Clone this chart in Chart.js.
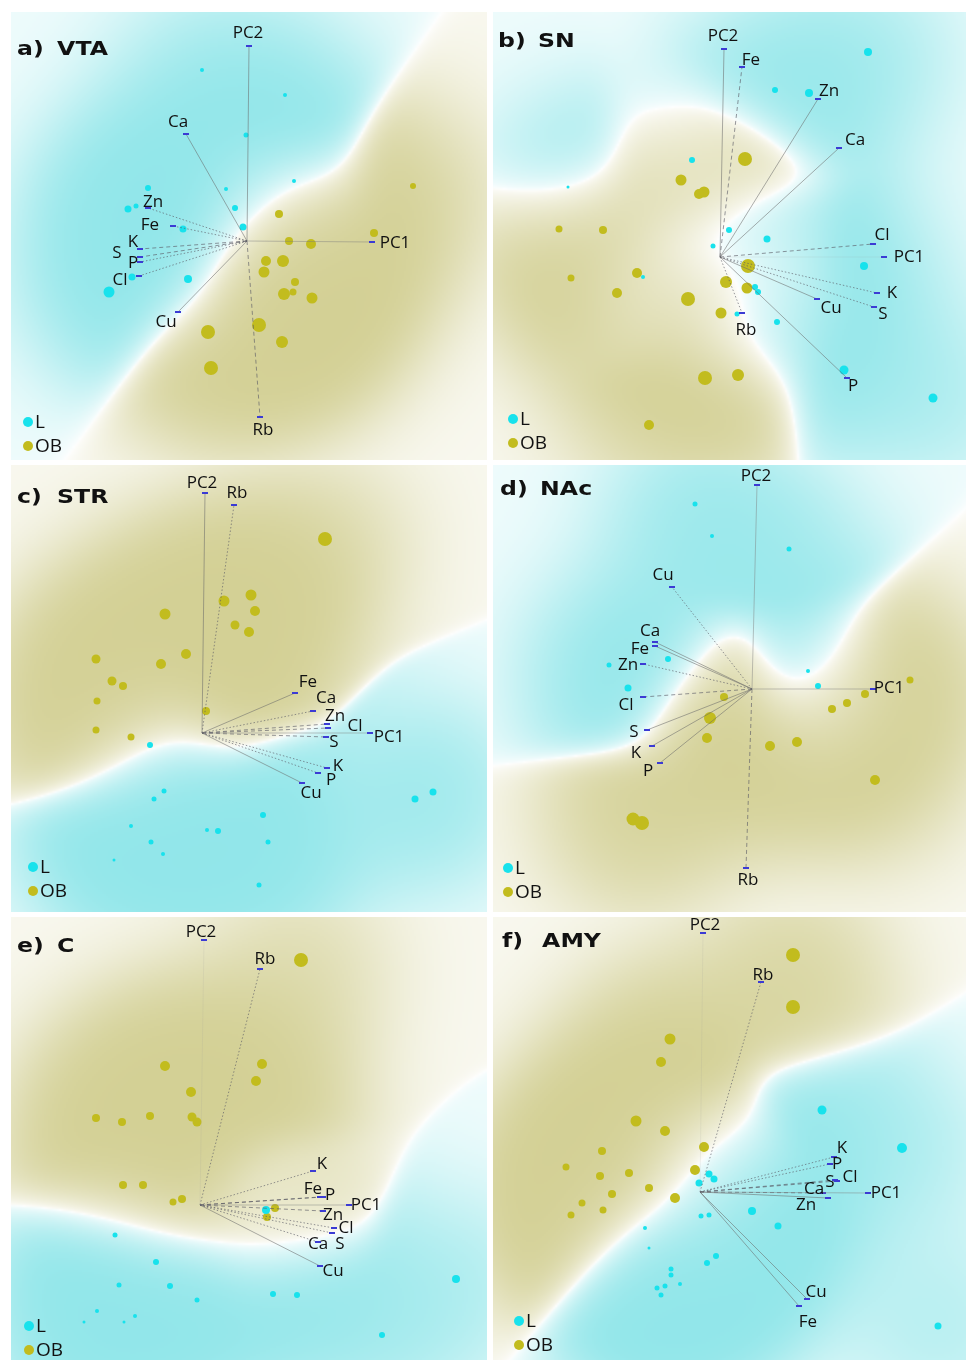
<!DOCTYPE html>
<html>
<head>
<meta charset="utf-8">
<script src="https://cdn.jsdelivr.net/npm/chart.js@4.4.0/dist/chart.umd.min.js"></script>
<style>
  body { margin: 0; background: #fff; width: 966px; height: 1360px; position: relative; overflow: hidden; }
  .panel { position: absolute; }
</style>
</head>
<body>
<div class="panel" style="left:11px;top:12px;width:476px;height:448px"><canvas id="chartVTA"></canvas></div>
<div class="panel" style="left:493px;top:12px;width:473px;height:448px"><canvas id="chartSN"></canvas></div>
<div class="panel" style="left:11px;top:465px;width:476px;height:447px"><canvas id="chartSTR"></canvas></div>
<div class="panel" style="left:493px;top:465px;width:473px;height:447px"><canvas id="chartNAc"></canvas></div>
<div class="panel" style="left:11px;top:917px;width:476px;height:443px"><canvas id="chartC"></canvas></div>
<div class="panel" style="left:493px;top:917px;width:473px;height:443px"><canvas id="chartAMY"></canvas></div>
<script>
// variables shown as loading arrows (the two PC axes are drawn the same way)
const VARS = ["PC1", "PC2", "Ca", "Cl", "Cu", "Fe", "K", "P", "Rb", "S", "Zn"];

// ---- VTA ----
const vtaLoadX = [1.25, 0.02, -0.61, -1.08, -0.69, -0.74, -1.07, -1.07, 0.13, -1.07, -0.99];
const vtaLoadY = [-0.01, 1.95, 1.07, -0.35, -0.71, 0.15, -0.08, -0.21, -1.76, -0.16, 0.33];
const vtaLX = [-0.45, 0.38, -0.01, 0.47, -0.21, -0.12, -0.04, -0.99, -1.19, -1.11, -0.64, -1.15, -0.59, -1.38];
const vtaLY = [1.71, 1.46, 1.06, 0.60, 0.52, 0.33, 0.14, 0.53, 0.32, 0.35, 0.12, -0.36, -0.38, -0.51];
const vtaLSize = [2, 2, 2.5, 2, 2, 3, 3.5, 3, 3.5, 2.5, 3.5, 3.5, 4, 5.5];
const vtaOBX = [1.66, 0.32, 0.42, 0.64, 1.27, 0.19, 0.36, 0.17, 0.48, 0.37, 0.46, 0.65, 0.12, -0.39, 0.35, -0.36];
const vtaOBY = [0.55, 0.27, 0.00, -0.03, 0.08, -0.20, -0.20, -0.31, -0.41, -0.53, -0.51, -0.57, -0.84, -0.91, -1.01, -1.27];
const vtaOBSize = [3, 4, 4, 5, 4, 5, 6, 5.5, 4, 6, 3.5, 5.5, 7, 7, 6, 7];

// ---- SN ----
const snLoadX = [1.64, 0.04, 1.19, 1.53, 0.97, 0.22, 1.57, 1.27, 0.22, 1.54, 0.98];
const snLoadY = [0.00, 2.08, 1.09, 0.13, -0.42, 1.90, -0.36, -1.21, -0.56, -0.50, 1.58];
const snLX = [1.48, 0.55, 0.89, -0.28, -1.52, 0.09, 0.47, -0.07, 1.44, -0.77, 0.35, 0.38, 0.17, 0.57, 1.24, 2.13];
const snLY = [2.05, 1.67, 1.64, 0.97, 0.70, 0.27, 0.18, 0.11, -0.09, -0.20, -0.30, -0.35, -0.57, -0.65, -1.13, -1.41];
const snLSize = [4, 3, 4, 3, 1.5, 3, 3.5, 2.5, 4, 2, 3, 3, 2.5, 3, 4.5, 4.5];
const snOBX = [0.25, -0.39, -0.16, -0.21, -1.61, -1.17, 0.28, -0.83, -1.49, 0.06, 0.27, -1.03, -0.32, 0.01, -0.15, 0.18, -0.71];
const snOBY = [0.98, 0.77, 0.65, 0.63, 0.28, 0.27, -0.09, -0.16, -0.21, -0.25, -0.31, -0.36, -0.42, -0.56, -1.21, -1.18, -1.68];
const snOBSize = [7, 5.5, 5.5, 5, 3.5, 4, 7, 5, 3.5, 6, 5.5, 5, 7, 5.5, 7, 6, 5];

// ---- STR ----
const strLoadX = [1.68, 0.03, 1.11, 1.26, 1.00, 0.93, 1.25, 1.16, 0.32, 1.24, 1.25];
const strLoadY = [0.00, 2.40, 0.22, 0.05, -0.50, 0.40, -0.35, -0.40, 2.28, -0.04, 0.09];
const strLX = [-0.52, -0.38, -0.48, 2.31, 2.13, 0.61, -0.71, 0.05, 0.16, -0.51, 0.66, -0.39, -0.88, 0.57];
const strLY = [-0.12, -0.58, -0.66, -0.59, -0.66, -0.82, -0.93, -0.97, -0.98, -1.09, -1.09, -1.21, -1.27, -1.52];
const strLSize = [3, 2.5, 2.5, 3.5, 3.5, 3, 2, 2, 3, 2.5, 2.5, 2, 1.5, 2.5];
const strOBX = [1.23, -0.37, 0.22, 0.49, 0.53, 0.33, 0.47, -0.16, -0.41, -1.06, -0.90, -0.79, -1.05, 0.04, -1.06, -0.71];
const strOBY = [1.94, 1.19, 1.32, 1.38, 1.22, 1.08, 1.01, 0.79, 0.69, 0.74, 0.52, 0.47, 0.32, 0.22, 0.03, -0.04];
const strOBSize = [7, 5.5, 5.5, 5.5, 5, 4.5, 5, 5, 5, 4.5, 4.5, 4, 3.5, 4, 3.5, 3.5];

// ---- NAc ----
const nacLoadX = [1.21, 0.05, -0.97, -1.09, -0.80, -0.97, -1.00, -0.92, -0.06, -1.05, -1.09];
const nacLoadY = [0.00, 2.04, 0.47, -0.08, 1.02, 0.43, -0.57, -0.74, -1.79, -0.41, 0.25];
const nacLX = [-0.57, -0.40, 0.37, -0.84, -1.43, -1.24, 0.56, 0.66];
const nacLY = [1.85, 1.53, 1.40, 0.30, 0.24, 0.01, 0.18, 0.03];
const nacLSize = [2.5, 2, 2.5, 3, 2.5, 3.5, 2, 3];
const nacOBX = [1.58, 1.13, 0.95, 0.80, -0.28, -0.42, -0.45, 0.18, 0.45, 1.23, -1.19, -1.10];
const nacOBY = [0.09, -0.05, -0.14, -0.20, -0.08, -0.29, -0.49, -0.57, -0.53, -0.91, -1.30, -1.34];
const nacOBSize = [3.5, 4, 4, 4, 4, 6, 5, 5, 5, 5, 6.5, 7];

// ---- C ----
const cLoadX = [1.49, 0.04, 1.18, 1.34, 1.20, 1.20, 1.13, 1.23, 0.60, 1.32, 1.23];
const cLoadY = [0.00, 2.65, -0.37, -0.23, -0.61, 0.08, 0.34, 0.08, 2.36, -0.28, -0.06];
const cLX = [0.66, -0.85, -0.44, -0.81, -0.30, 0.73, 0.97, -0.03, 2.56, -1.03, -0.65, -1.16, -0.76, 1.82];
const cLY = [-0.05, -0.30, -0.57, -0.80, -0.81, -0.89, -0.90, -0.95, -0.74, -1.06, -1.11, -1.17, -1.17, -1.30];
const cLSize = [4, 2.5, 3, 2.5, 3, 3, 3, 2.5, 4, 2, 2, 1.5, 1.5, 3];
const cOBX = [1.01, -0.35, 0.62, 0.56, -0.09, -1.04, -0.78, -0.50, -0.08, -0.03, -0.77, -0.57, -0.27, -0.18, 0.75, 0.67];
const cOBY = [2.45, 1.39, 1.41, 1.24, 1.13, 0.87, 0.83, 0.89, 0.88, 0.83, 0.20, 0.20, 0.03, 0.06, -0.03, -0.12];
const cOBSize = [7, 5, 5, 5, 5, 4, 4, 4, 4.5, 4.5, 4, 4, 3.5, 4, 4, 4];

// ---- AMY ----
const amyLoadX = [1.68, 0.03, 1.23, 1.37, 1.07, 0.99, 1.34, 1.30, 0.61, 1.35, 1.28];
const amyLoadY = [-0.01, 2.59, -0.01, 0.11, -1.07, -1.14, 0.35, 0.28, 2.10, 0.12, -0.06];
const amyLX = [1.22, 2.02, 0.09, 0.14, -0.01, 0.52, 0.78, 0.01, 0.09, -0.55, -0.51, 0.16, 0.07, -0.29, -0.29, -0.20, -0.35, -0.43, -0.39, 2.38];
const amyLY = [0.82, 0.44, 0.18, 0.13, 0.09, -0.19, -0.34, -0.24, -0.23, -0.36, -0.56, -0.64, -0.71, -0.77, -0.83, -0.92, -0.94, -0.96, -1.03, -1.34];
const amyLSize = [4.5, 5, 3.5, 3.5, 3.5, 4, 3.5, 2.5, 2.5, 2, 1.5, 3, 3, 2.5, 2.5, 2, 2.5, 2.5, 2.5, 3.5];
const amyOBX = [0.93, 0.93, -0.30, -0.39, -0.64, -0.35, 0.04, -0.98, -1.34, -1.00, -0.71, -0.05, -0.51, -0.88, -0.25, -1.18, -0.97, -1.29];
const amyOBY = [2.37, 1.85, 1.53, 1.30, 0.71, 0.61, 0.45, 0.41, 0.25, 0.16, 0.19, 0.22, 0.04, -0.02, -0.06, -0.11, -0.18, -0.23];
const amyOBSize = [7, 7, 5.5, 5, 5.5, 5, 5, 4, 3.5, 4, 4, 5, 4, 4, 5, 3.5, 3.5, 3.5];

const L_COLOR = "#18e2ec";
const OB_COLOR = "#c2bc1e";
const TIP_COLOR = "#3b3bd4";
const CYAN_FIELD = [118, 224, 228];
const OLIVE_FIELD = [200, 196, 122];

const LINE_STYLES = {
  axis:  { color: "rgba(125,125,125,0.5)", dash: [] },
  faint: { color: "rgba(150,150,150,0.15)", dash: [] },
  solid: { color: "rgba(105,105,105,0.6)", dash: [] },
  dash:  { color: "rgba(90,90,100,0.7)", dash: [4, 3] },
  dot:   { color: "rgba(90,90,100,0.7)", dash: [1.5, 2] }
};

// shaded class regions: a narrow kernel decides L vs OB, a second one sets how strong the tint is
const classField = {
  id: "classField",
  beforeDatasetsDraw(chart, args, opts) {
    const { ctx, chartArea: area, scales: { x, y } } = chart;
    const pts = [];
    chart.data.datasets.forEach(ds => {
      if (!ds.cls) return;
      ds.data.forEach(p => pts.push([x.getPixelForValue(p.x), y.getPixelForValue(p.y), ds.cls]));
    });
    const step = 2;
    const w = Math.ceil((area.right - area.left) / step);
    const h = Math.ceil((area.bottom - area.top) / step);
    const off = document.createElement("canvas");
    off.width = w; off.height = h;
    const octx = off.getContext("2d");
    const img = octx.createImageData(w, h);
    const s1 = 2 * opts.sigma * opts.sigma;
    const s2 = 2 * opts.densSigma * opts.densSigma;
    for (let j = 0; j < h; j++) {
      for (let i = 0; i < w; i++) {
        const px = area.left + i * step, py = area.top + j * step;
        let sl = 1e-300, so = 1e-300, sd = 0;
        for (const p of pts) {
          const dx = px - p[0], dy = py - p[1];
          const d2 = dx * dx + dy * dy;
          const k = Math.exp(-d2 / s1);
          sd += Math.exp(-d2 / s2);
          if (p[2] > 0) sl += k; else so += k;
        }
        const q = (sl - so) / (sl + so);
        const dens = 1 - Math.exp(-sd / opts.densScale);
        const t = opts.peak * Math.pow(Math.min(1, Math.abs(q)), opts.gamma) * (opts.base + (1 - opts.base) * dens);
        const c = q > 0 ? CYAN_FIELD : OLIVE_FIELD;
        const o = (j * w + i) * 4;
        img.data[o] = 255 + (c[0] - 255) * t;
        img.data[o + 1] = 255 + (c[1] - 255) * t;
        img.data[o + 2] = 255 + (c[2] - 255) * t;
        img.data[o + 3] = 255;
      }
    }
    octx.putImageData(img, 0, 0);
    ctx.save();
    ctx.imageSmoothingEnabled = true;
    ctx.drawImage(off, area.left, area.top, w * step, h * step);
    ctx.restore();
  }
};

// element names next to the arrow tips, then panel title and key
const biplotText = {
  id: "biplotText",
  afterDatasetsDraw(chart, args, opts) {
    const { ctx, scales: { x, y } } = chart;
    ctx.save();
    ctx.font = '17px "Open Sans"';
    ctx.fillStyle = "#111";
    ctx.textAlign = "center";
    ctx.textBaseline = "middle";
    opts.names.forEach((name, i) => {
      const px = x.getPixelForValue(opts.tipX[i]) + opts.shift[i][0];
      const py = y.getPixelForValue(opts.tipY[i]) + opts.shift[i][1];
      ctx.fillText(name, px, py);
    });

    // title, slightly wide bold face
    ctx.textAlign = "left";
    ctx.textBaseline = "alphabetic";
    ctx.font = 'bold 20px "DejaVu Sans"';
    ctx.translate(opts.titleAt[0], opts.titleAt[1]);
    ctx.scale(1.18, 1);
    ctx.fillText(opts.title[0], 0, 0);
    ctx.fillText(opts.title[1], 34, 0);
    ctx.setTransform(1, 0, 0, 1, 0, 0);
    ctx.restore();

    ctx.save();
    const [kx, ky] = opts.keyAt;
    ctx.font = '19px "Open Sans"';
    ctx.textBaseline = "middle";
    [["L", L_COLOR], ["OB", OB_COLOR]].forEach(([lab, col], i) => {
      ctx.beginPath();
      ctx.fillStyle = col;
      ctx.arc(kx, ky + i * 24, 5, 0, Math.PI * 2);
      ctx.fill();
      ctx.fillStyle = "#111";
      ctx.fillText(lab, kx + 7, ky + i * 24 + 1);
    });
    ctx.restore();
  }
};

function toPoints(xs, ys) {
  return xs.map((v, i) => ({ x: v, y: ys[i] }));
}

function makeBiplot(canvasId, p) {
  const datasets = [];
  VARS.forEach((name, i) => {
    const st = LINE_STYLES[p.lineStyle[i]];
    datasets.push({
      label: name,
      data: [{ x: 0, y: 0 }, { x: p.loadX[i], y: p.loadY[i] }],
      showLine: true,
      borderColor: st.color,
      borderWidth: 0.9,
      borderDash: st.dash,
      pointStyle: "line",
      pointRadius: [0, 3],
      pointBorderColor: TIP_COLOR,
      pointBorderWidth: 2,
      order: 0
    });
  });
  datasets.push({
    label: "L", cls: 1,
    data: toPoints(p.lx, p.ly),
    pointRadius: p.lSize,
    backgroundColor: L_COLOR,
    borderWidth: 0,
    order: 1
  });
  datasets.push({
    label: "OB", cls: -1,
    data: toPoints(p.obx, p.oby),
    pointRadius: p.obSize,
    backgroundColor: OB_COLOR,
    borderWidth: 0,
    order: 1
  });

  new Chart(document.getElementById(canvasId), {
    type: "scatter",
    data: { datasets },
    options: {
      responsive: true,
      maintainAspectRatio: false,
      animation: false,
      events: [],
      layout: { padding: 0, autoPadding: false },
      scales: {
        x: { type: "linear", display: false, min: p.xRange[0], max: p.xRange[1] },
        y: { type: "linear", display: false, min: p.yRange[0], max: p.yRange[1] }
      },
      plugins: {
        legend: { display: false },
        tooltip: { enabled: false },
        classField: { sigma: 40, densSigma: 65, densScale: 1.3, gamma: 0.6, base: 0.15, peak: 0.8 },
        biplotText: {
          names: VARS, tipX: p.loadX, tipY: p.loadY, shift: p.labelShift,
          title: p.title, titleAt: p.titleAt, keyAt: p.keyAt
        }
      }
    },
    plugins: [classField, biplotText]
  });
}

makeBiplot("chartVTA", {
  loadX: vtaLoadX, loadY: vtaLoadY,
  lx: vtaLX, ly: vtaLY, lSize: vtaLSize, obx: vtaOBX, oby: vtaOBY, obSize: vtaOBSize,
  xRange: [-2.36, 2.40], yRange: [-2.19, 2.29],
  lineStyle: ["axis", "solid", "solid", "dot", "solid", "dot", "dash", "dot", "dash", "dash", "dot"],
  labelShift: [[23, 1], [-1, -13], [-8, -12], [-19, 4], [-12, 10], [-23, -1], [-7, -7], [-7, 1], [3, 13], [-23, -4], [5, -6]],
  title: ["a)", "VTA"], titleAt: [6, 43], keyAt: [17, 410]
});

makeBiplot("chartSN", {
  loadX: snLoadX, loadY: snLoadY,
  lx: snLX, ly: snLY, lSize: snLSize, obx: snOBX, oby: snOBY, obSize: snOBSize,
  xRange: [-2.27, 2.46], yRange: [-2.03, 2.45],
  lineStyle: ["faint", "solid", "solid", "dash", "solid", "dash", "dot", "solid", "dot", "dot", "solid"],
  labelShift: [[25, 0], [-1, -13], [16, -8], [9, -9], [14, 9], [9, -7], [15, 0], [6, 8], [4, 17], [9, 7], [11, -8]],
  title: ["b)", "SN"], titleAt: [5, 35], keyAt: [20, 407]
});

makeBiplot("chartSTR", {
  loadX: strLoadX, loadY: strLoadY,
  lx: strLX, ly: strLY, lSize: strLSize, obx: strOBX, oby: strOBY, obSize: strOBSize,
  xRange: [-1.91, 2.85], yRange: [-1.79, 2.68],
  lineStyle: ["axis", "solid", "dot", "dash", "solid", "solid", "dot", "dot", "dot", "dash", "dash"],
  labelShift: [[19, 4], [-3, -10], [13, -13], [27, -2], [9, 10], [13, -11], [11, -2], [13, 7], [3, -12], [8, 5], [8, -8]],
  title: ["c)", "STR"], titleAt: [6, 38], keyAt: [22, 402]
});

makeBiplot("chartNAc", {
  loadX: nacLoadX, loadY: nacLoadY,
  lx: nacLX, ly: nacLY, lSize: nacLSize, obx: nacOBX, oby: nacOBY, obSize: nacOBSize,
  xRange: [-2.59, 2.14], yRange: [-2.23, 2.24],
  lineStyle: ["axis", "axis", "solid", "dash", "dot", "solid", "solid", "solid", "dash", "solid", "dot"],
  labelShift: [[16, -1], [-1, -9], [-5, -11], [-17, 8], [-9, -12], [-15, 3], [-16, 7], [-12, 8], [2, 12], [-13, 2], [-15, 1]],
  title: ["d)", "NAc"], titleAt: [7, 30], keyAt: [15, 403]
});

makeBiplot("chartC", {
  loadX: cLoadX, loadY: cLoadY,
  lx: cLX, ly: cLY, lSize: cLSize, obx: cOBX, oby: cOBY, obSize: cOBSize,
  xRange: [-1.89, 2.87], yRange: [-1.55, 2.88],
  lineStyle: ["axis", "faint", "dot", "dot", "solid", "dash", "dot", "dash", "dot", "dot", "dash"],
  labelShift: [[17, 0], [-3, -8], [0, 2], [12, 0], [13, 5], [-7, -8], [9, -7], [7, -2], [5, -10], [8, 11], [10, 4]],
  title: ["e)", "C"], titleAt: [6, 35], keyAt: [18, 409]
});

makeBiplot("chartAMY", {
  loadX: amyLoadX, loadY: amyLoadY,
  lx: amyLX, ly: amyLY, lSize: amyLSize, obx: amyOBX, oby: amyOBY, obSize: amyOBSize,
  xRange: [-2.07, 2.66], yRange: [-1.68, 2.75],
  lineStyle: ["axis", "faint", "dash", "dash", "solid", "solid", "dot", "dot", "dot", "dash", "solid"],
  labelShift: [[18, 0], [2, -8], [-9, -4], [13, -4], [9, -7], [9, 16], [8, -9], [7, 0], [2, -7], [-5, 2], [-22, 7]],
  title: ["f)", "AMY"], titleAt: [9, 30], keyAt: [26, 404]
});
</script>
</body>
</html>
